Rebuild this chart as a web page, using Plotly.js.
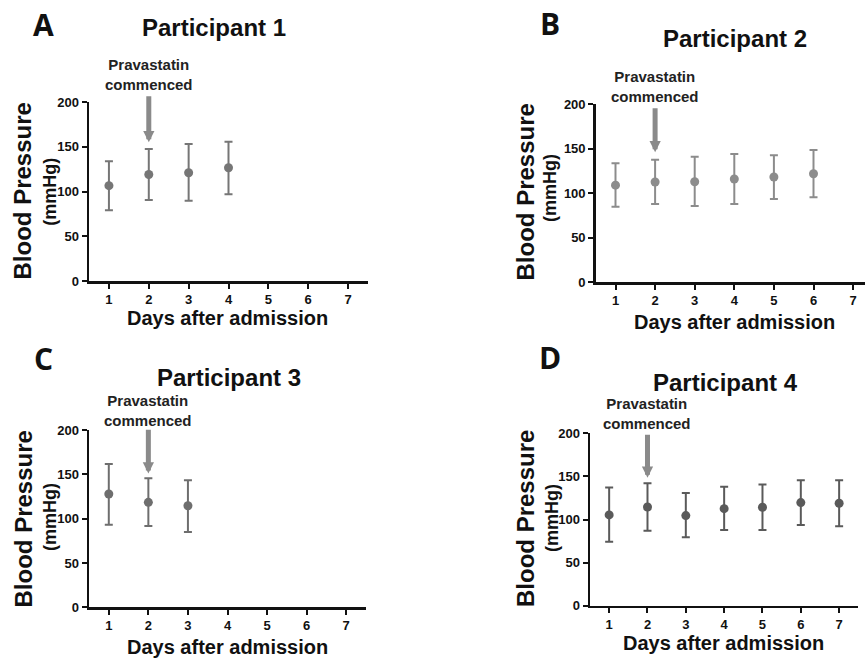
<!DOCTYPE html>
<html><head><meta charset="utf-8">
<script src="https://cdn.plot.ly/plotly-3.0.1.min.js"></script>
<style>html,body{margin:0;padding:0;background:#fff}</style>
</head><body><div id="chart" style="width:865px;height:659px"></div>
<script>
const days = [1, 2, 3, 4, 5, 6, 7];
const dayTicks = ['1', '2', '3', '4', '5', '6', '7'];
const bpTicks = [0, 50, 100, 150, 200];

const p1Mean  = [106.5, 119, 121, 126.5];
const p1Upper = [133.7, 147.5, 153, 155.6];
const p1Lower = [79, 90.5, 89.7, 96.9];

const p2Mean  = [109, 112.5, 112.8, 115.9, 118.1, 121.8];
const p2Upper = [133.5, 137.5, 140.9, 143.9, 142.4, 148.4];
const p2Lower = [84.8, 87.8, 85.6, 87.8, 93.4, 95.3];

const p3Mean  = [127.8, 118.4, 114.6];
const p3Upper = [161.6, 145.5, 143.2];
const p3Lower = [93.2, 91.7, 84.9];

const p4Mean  = [105.3, 114.5, 104.5, 112.6, 114.2, 119.6, 118.8];
const p4Upper = [137, 142, 130.8, 138.1, 140.5, 145.5, 145.5];
const p4Lower = [74.3, 87, 79.3, 87.9, 87.9, 93.7, 92.1];

const panelTitles = ['Participant 1', 'Participant 2', 'Participant 3', 'Participant 4'];
const panelLetters = ['A', 'B', 'C', 'D'];
const arrowTip = [155, 146, 151, 148.5];
const arrowTail = [208, 197, 202, 200];
const startDay = 2;

const W = 865, H = 659;
const px = x => x / W, py = y => 1 - y / H;

const FONT = 'Liberation Sans, Arial, sans-serif';
const series = [
  {m: p1Mean, u: p1Upper, l: p1Lower, c: '#767676'},
  {m: p2Mean, u: p2Upper, l: p2Lower, c: '#8c8c8c'},
  {m: p3Mean, u: p3Upper, l: p3Lower, c: '#6e6e6e'},
  {m: p4Mean, u: p4Upper, l: p4Lower, c: '#5a5a5a'}
];

const traces = series.map((s, i) => ({
  type: 'scatter', mode: 'markers',
  x: days.slice(0, s.m.length), y: s.m,
  xaxis: i === 0 ? 'x' : 'x' + (i + 1),
  yaxis: i === 0 ? 'y' : 'y' + (i + 1),
  marker: {color: s.c, size: 9},
  error_y: {type: 'data', symmetric: false,
    array: s.u.map((v, k) => v - s.m[k]),
    arrayminus: s.m.map((v, k) => v - s.l[k]),
    color: s.c, thickness: 2, width: 4},
  showlegend: false, cliponaxis: false
}));

// panel geometry (pixels)
const geo = [
  {x0: 89, x1: 368, yt: 102, yb: 281, xr: [0.5, 7.5]},
  {x0: 595.7, x1: 865, yt: 104, yb: 282.3, xr: [0.5, 0.5 + (865 - 595.7) / 39.6]},
  {x0: 89, x1: 366, yt: 430, yb: 607.3, xr: [0.5, 7.5]},
  {x0: 590, x1: 858.3, yt: 433.3, yb: 605.7, xr: [0.5, 7.5]}
];

const layout = {
  width: W, height: H, margin: {l: 0, r: 0, t: 0, b: 0},
  paper_bgcolor: '#fff', plot_bgcolor: '#fff',
  font: {family: FONT, color: '#111'},
  annotations: [], showlegend: false
};

const axBase = {
  showline: true, linecolor: '#111', linewidth: 2.5, showgrid: false, zeroline: false,
  ticks: 'outside', ticklen: 5, tickwidth: 2, tickcolor: '#111',
  tickfont: {family: FONT, size: 13, color: '#111', weight: 'bold'}, fixedrange: true
};

geo.forEach((g, i) => {
  const xs = i === 0 ? 'xaxis' : 'xaxis' + (i + 1);
  const ys = i === 0 ? 'yaxis' : 'yaxis' + (i + 1);
  const yref = i === 0 ? 'y' : 'y' + (i + 1);
  const xref = i === 0 ? 'x' : 'x' + (i + 1);
  layout[xs] = Object.assign({}, axBase, {
    domain: [px(g.x0), px(g.x1)], range: g.xr, anchor: yref,
    tickmode: 'array', tickvals: days, ticktext: dayTicks
  });
  layout[ys] = Object.assign({}, axBase, {
    domain: [py(g.yb), py(g.yt)], range: [0, 200], anchor: xref,
    tickmode: 'array', tickvals: bpTicks, ticktext: bpTicks.map(String)
  });
  // arrow
  layout.annotations.push({
    x: startDay, y: arrowTip[i], ax: startDay, ay: arrowTail[i],
    xref: xref, yref: yref, axref: xref, ayref: yref,
    showarrow: true, arrowhead: 2, arrowsize: 0.45, arrowwidth: 5,
    arrowcolor: '#8a8a8a', standoff: 0, text: ''
  });
});

const labelPos = [
  {t: [214, 28], L: [43, 25], pc: 74.5, bp: [22, 191.5], mm: [50, 191.7], dx: [228, 318]},
  {t: [735, 38], L: [550, 24], pc: 87, bp: [525, 192.5], mm: [550, 188], dx: [734, 322]},
  {t: [229, 377], L: [43, 359], pc: 410.5, bp: [23, 519.5], mm: [50, 517], dx: [228, 647]},
  {t: [725, 382], L: [550, 358], pc: 413.3, bp: [525, 519], mm: [552, 518], dx: [723, 643]}
];

labelPos.forEach((p, i) => {
  const xref = i === 0 ? 'x' : 'x' + (i + 1);
  const A = layout.annotations;
  A.push({xref: 'paper', yref: 'paper', x: px(p.t[0]), y: py(p.t[1]), xanchor: 'center', yanchor: 'middle',
    showarrow: false, text: panelTitles[i], font: {family: FONT, size: 24, color: '#111', weight: 'bold'}});
  A.push({xref: 'paper', yref: 'paper', x: px(p.L[0]), y: py(p.L[1]), xanchor: 'center', yanchor: 'middle',
    showarrow: false, text: panelLetters[i], font: {family: 'Open Sans, sans-serif', size: 30, color: '#111', weight: 'bold'}});
  A.push({xref: xref, yref: 'paper', x: startDay, y: py(p.pc), xanchor: 'center', yanchor: 'middle',
    showarrow: false, text: 'Pravastatin<br>commenced', font: {family: FONT, size: 15, color: '#222', weight: 'bold'}});
  A.push({xref: 'paper', yref: 'paper', x: px(p.bp[0]), y: py(p.bp[1]), xanchor: 'center', yanchor: 'middle',
    showarrow: false, textangle: -90, text: 'Blood Pressure', font: {family: FONT, size: 24, color: '#111', weight: 'bold'}});
  A.push({xref: 'paper', yref: 'paper', x: px(p.mm[0]), y: py(p.mm[1]), xanchor: 'center', yanchor: 'middle',
    showarrow: false, textangle: -90, text: '(mmHg)', font: {family: FONT, size: 18, color: '#111', weight: 'bold'}});
  A.push({xref: 'paper', yref: 'paper', x: px(p.dx[0]), y: py(p.dx[1]), xanchor: 'center', yanchor: 'middle',
    showarrow: false, text: 'Days after admission', font: {family: FONT, size: 20, color: '#111', weight: 'bold'}});
});

Plotly.newPlot('chart', traces, layout, {displayModeBar: false, staticPlot: true});
</script></body></html>
